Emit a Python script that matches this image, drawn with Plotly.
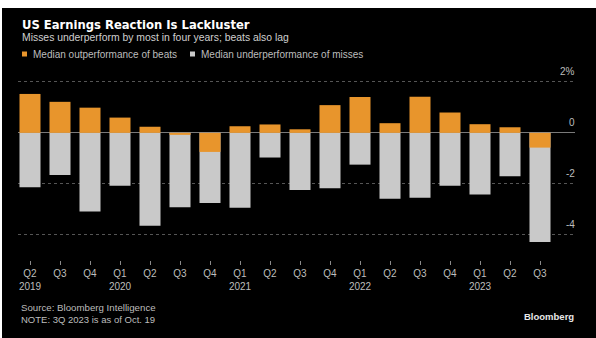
import plotly.graph_objects as go

quarters = ["Q2", "Q3", "Q4", "Q1", "Q2", "Q3", "Q4", "Q1", "Q2", "Q3", "Q4", "Q1", "Q2", "Q3", "Q4", "Q1", "Q2", "Q3"]
years = ["2019", "", "", "2020", "", "", "", "2021", "", "", "", "2022", "", "", "", "2023", "", ""]
beats = [1.53, 1.22, 0.99, 0.60, 0.24, -0.08, -0.75, 0.26, 0.33, 0.14, 1.09, 1.41, 0.38, 1.42, 0.80, 0.34, 0.22, -0.58]
misses = [-2.14, -1.66, -3.09, -2.08, -3.65, -2.93, -2.76, -2.95, -0.97, -2.25, -2.18, -1.25, -2.59, -2.55, -2.08, -2.42, -1.71, -4.29]
y_ticks = [2, 0, -2, -4]
y_tick_labels = ["2%", "0", "-2", "-4"]

W, H = 596, 338
L, R, T, B = 18, 21, 80, 78
PW, PH = W - L - R, H - T - B
SCALE = 25.43  # px per unit

def px(x):
    return (x - L) / PW

def py(y):
    return (H - B - y) / PH

ORANGE = "#E8952C"
GRAY = "#C9C9C9"
FONT = "Liberation Sans"

idx = list(range(len(quarters)))
ticktext = [q + ("<br>" + y if y else "<br> ") for q, y in zip(quarters, years)]

fig = go.Figure()
fig.add_trace(go.Bar(x=idx, y=misses, marker=dict(color=GRAY, line=dict(width=0)), width=0.7,
                     name="Median underperformance of misses", showlegend=False))
fig.add_trace(go.Bar(x=idx, y=beats, marker=dict(color=ORANGE, line=dict(width=0)), width=0.7,
                     name="Median outperformance of beats", showlegend=False))

shapes = [
    dict(type="rect", xref="paper", yref="paper", x0=px(2), x1=px(W + 5), y0=py(8), y1=py(H + 5),
         fillcolor="#000000", line=dict(width=0), layer="below"),
    # legend squares
    dict(type="rect", xref="paper", yref="paper", x0=px(22), x1=px(27), y0=py(56.5), y1=py(51.5),
         fillcolor=ORANGE, line=dict(width=0)),
    dict(type="rect", xref="paper", yref="paper", x0=px(190), x1=px(195), y0=py(56.5), y1=py(51.5),
         fillcolor=GRAY, line=dict(width=0)),
]

annotations = [
    dict(text="<b>US Earnings Reaction Is Lackluster</b>", x=px(20), y=py(25), xref="paper", yref="paper",
         xanchor="left", yanchor="middle", showarrow=False,
         font=dict(family="DejaVu Sans", size=11.6, color="#FFFFFF")),
    dict(text="Misses underperform by most in four years; beats also lag", x=px(20), y=py(37.5),
         xref="paper", yref="paper", xanchor="left", yanchor="middle", showarrow=False,
         font=dict(family=FONT, size=10.4, color="#D0D0D0")),
    dict(text="Median outperformance of beats", x=px(31), y=py(54), xref="paper", yref="paper",
         xanchor="left", yanchor="middle", showarrow=False, font=dict(family=FONT, size=10, color="#BDBDBD")),
    dict(text="Median underperformance of misses", x=px(199), y=py(54), xref="paper", yref="paper",
         xanchor="left", yanchor="middle", showarrow=False, font=dict(family=FONT, size=10, color="#BDBDBD")),
    dict(text="Source: Bloomberg Intelligence", x=px(19), y=py(307), xref="paper", yref="paper",
         xanchor="left", yanchor="middle", showarrow=False, font=dict(family=FONT, size=9.7, color="#BDBDBD")),
    dict(text="NOTE: 3Q 2023 is as of Oct. 19", x=px(19), y=py(319), xref="paper", yref="paper",
         xanchor="left", yanchor="middle", showarrow=False, font=dict(family=FONT, size=9.5, color="#BDBDBD")),
    dict(text="<b>Bloomberg</b>", x=px(576), y=py(316), xref="paper", yref="paper",
         xanchor="right", yanchor="middle", showarrow=False, font=dict(family=FONT, size=9.5, color="#E8E8E8")),
]
for v, lab in zip(y_ticks, y_tick_labels):
    annotations.append(dict(text=lab, x=px(577), y=v, xref="paper", yref="y", xanchor="right",
                            yanchor="middle", yshift=10, showarrow=False,
                            font=dict(family=FONT, size=10, color="#BDBDBD")))

fig.update_layout(
    width=W, height=H,
    margin=dict(l=L, r=R, t=T, b=B),
    paper_bgcolor="#FFFFFF",
    plot_bgcolor="rgba(0,0,0,0)",
    barmode="overlay",
    bargap=0.3,
    shapes=shapes,
    annotations=annotations,
    showlegend=False,
    hovermode=False,
    xaxis=dict(range=[-0.4, PW / 30 - 0.4], tickmode="array", tickvals=idx, ticktext=ticktext,
               ticks="outside", ticklen=4, tickcolor="#8A8A8A", tickwidth=1,
               showgrid=False, zeroline=False, showline=False,
               tickfont=dict(family=FONT, size=10, color="#BDBDBD")),
    yaxis=dict(range=[-5, -5 + PH / SCALE], tickmode="array", tickvals=y_ticks, showticklabels=False,
               showgrid=True, gridcolor="#555555", griddash="dot", gridwidth=1,
               zeroline=True, zerolinecolor="#7A7A7A", zerolinewidth=1, showline=False),
)

fig.write_html("out.html", config={"displayModeBar": False},
               post_script="document.body.style.margin='0px';")
